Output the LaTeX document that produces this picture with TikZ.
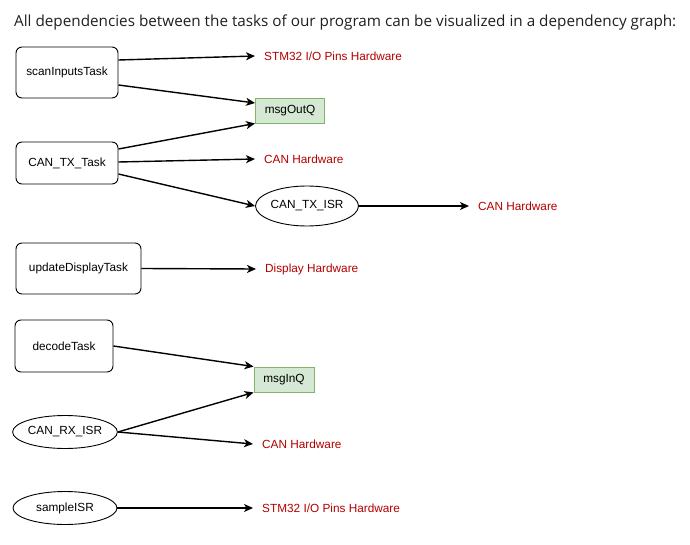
\documentclass[tikz,border=0pt]{standalone}
\usepackage{fontspec}
\setmainfont{Liberation Sans}
\newfontfamily\hdrfont{Open Sans}
\usetikzlibrary{arrows.meta,shapes.geometric}
\definecolor{hwred}{HTML}{B20000}
\definecolor{qfill}{HTML}{D5E8D4}
\definecolor{qdraw}{HTML}{82B366}
\definecolor{hdrcol}{HTML}{1F1F1F}
\tikzset{
  base/.style={font=\fontsize{11.8}{14}\selectfont, inner sep=0pt, text=black},
  taskbox/.style={base, draw=black, line width=0.9pt, rounded corners=6pt},
  isr/.style={base, draw=black, line width=0.9pt, ellipse},
  queue/.style={base, draw=qdraw, fill=qfill, line width=0.9pt},
  hw/.style={base, text=hwred, anchor=west, inner xsep=9pt, inner ysep=0pt},
  dep/.style={line width=1.4pt, -{Stealth[length=9pt,width=8pt,inset=2.5pt]}},
}
\begin{document}
\begin{tikzpicture}[x=1pt,y=-1pt]
\useasboundingbox (0,0) rectangle (690,545);
\node[anchor=base west, inner sep=0pt, text=hdrcol] (hdr) at (14,27)
  {\resizebox{662pt}{!}{\hdrfont\fontsize{15}{18}\selectfont All dependencies between the tasks of our program can be visualized in a dependency graph:}};

% sources
\node[taskbox, minimum width=102pt, minimum height=51pt] (scan) at (67,72.5) {scanInputsTask};
\node[taskbox, minimum width=102pt, minimum height=42pt] (cantx) at (67,163) {CAN\_TX\_Task};
\node[taskbox, minimum width=125pt, minimum height=51pt] (upd) at (78.5,268.5) {updateDisplayTask};
\node[taskbox, minimum width=98pt, minimum height=52pt] (dec) at (64,346) {decodeTask};
\node[isr, minimum width=104pt, minimum height=33pt] (rxisr) at (65,432) {CAN\_RX\_ISR};
\node[isr, minimum width=104pt, minimum height=33pt] (samp) at (65,508) {sampleISR};

% middle
\node[queue, minimum width=69pt, minimum height=25pt] (outq) at (290,110.5) {msgOutQ};
\node[queue, minimum width=60pt, minimum height=25pt] (inq) at (284,379.5) {msgInQ};
\node[isr, minimum width=103pt, minimum height=40pt] (txisr) at (307,206) {CAN\_TX\_ISR};

% hardware labels
\node[hw] (stmA) at (255,56) {STM32 I/O Pins Hardware};
\node[hw] (canA) at (255,159) {CAN Hardware};
\node[hw] (canB) at (469,206) {CAN Hardware};
\node[hw] (disp) at (256,269) {Display Hardware};
\node[hw] (canC) at (253,444) {CAN Hardware};
\node[hw] (stmB) at (253,508) {STM32 I/O Pins Hardware};

% connectors
\draw[dep] ([yshift=12.5pt]scan.east) -- (stmA.west);
\draw[dep] ([yshift=-12.5pt]scan.east) -- ([yshift=7.5pt]outq.west);
\draw[dep] ([yshift=14pt]cantx.east) -- (outq.south west);
\draw[dep] ([yshift=1pt]cantx.east) -- (canA.west);
\draw[dep] ([yshift=-11pt]cantx.east) -- (txisr.west);
\draw[dep] (txisr.east) -- (canB.west);
\draw[dep] (upd.east) -- (disp.west);
\draw[dep] (dec.east) -- (inq.north west);
\draw[dep] (rxisr.east) -- (inq.south west);
\draw[dep] (rxisr.east) -- (canC.west);
\draw[dep] (samp.east) -- (stmB.west);
\end{tikzpicture}
\end{document}
